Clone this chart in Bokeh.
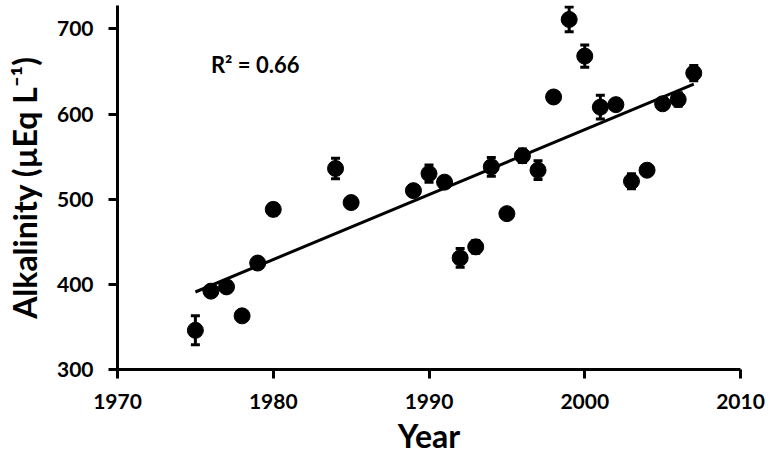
from bokeh.plotting import figure
from bokeh.models import Range1d, FixedTicker, Label, ColumnDataSource, Whisker
from bokeh.embed import file_html
from bokeh.resources import INLINE

years = [1975, 1976, 1977, 1978, 1979, 1980, 1984, 1985, 1989, 1990, 1991, 1992, 1993,
         1994, 1995, 1996, 1997, 1998, 1999, 2000, 2001, 2002, 2003, 2004, 2005, 2006, 2007]
alkalinity = [346, 392, 397, 363, 425, 488, 536, 496, 510, 530, 520, 431, 444,
              538, 483, 551, 534, 620, 711, 668, 608, 611, 521, 534, 612, 617, 648]
errors = [17, 4, 4, 3, 3, 7, 12, 4, 4, 10, 4, 11, 7.5,
          11, 3, 8, 11, 4, 14.5, 13, 14, 3, 8.8, 3, 3, 8, 9]

trend_years = [1975, 2007]
trend_values = [391, 635]

x_ticks = [1970, 1980, 1990, 2000, 2010]
y_ticks = [300, 400, 500, 600, 700]
r2_text = "R² = 0.66"

FONT = "Lato"

p = figure(width=766, height=458, output_backend="svg", toolbar_location=None,
           x_range=Range1d(1970, 2010), y_range=Range1d(300, 727.4),
           min_border_left=117, min_border_right=26, min_border_top=5, min_border_bottom=89)
p.outline_line_color = None
p.grid.visible = False
p.background_fill_color = "white"

lower = [a - e for a, e in zip(alkalinity, errors)]
upper = [a + e for a, e in zip(alkalinity, errors)]
src = ColumnDataSource(dict(x=years, y=alkalinity, lower=lower, upper=upper))

w = Whisker(source=src, base="x", lower="lower", upper="upper",
            line_color="black", line_width=3)
for head in (w.upper_head, w.lower_head):
    head.size = 9
    head.line_width = 3
    head.line_color = "black"
p.add_layout(w)

p.line(trend_years, trend_values, line_color="black", line_width=3)
p.scatter("x", "y", source=src, size=16, fill_color="black", line_color="black")

p.add_layout(Label(x=1976.0, y=658, text=r2_text, text_font=FONT, text_font_style="bold",
                   text_font_size="22px", text_baseline="middle", text_color="black"))

for ax in (p.xaxis, p.yaxis):
    ax.axis_line_width = 3
    ax.axis_line_color = "black"
    ax.major_tick_line_width = 3
    ax.major_tick_line_color = "black"
    ax.major_tick_out = 9
    ax.major_tick_in = 0
    ax.minor_tick_line_color = None
    ax.major_label_text_font = FONT
    ax.major_label_text_font_style = "bold"
    ax.major_label_text_font_size = "21px"
    ax.major_label_text_color = "black"
    ax.axis_label_text_font = FONT
    ax.axis_label_text_font_style = "bold"
    ax.axis_label_text_color = "black"

p.xaxis.ticker = FixedTicker(ticks=x_ticks)
p.yaxis.ticker = FixedTicker(ticks=y_ticks)
p.xaxis.major_label_standoff = 15
p.yaxis.major_label_standoff = 15
p.xaxis.axis_label = "Year"
p.xaxis.axis_label_text_font_size = "32px"
p.xaxis.axis_label_standoff = 4
p.yaxis.axis_label = "Alkalinity (µEq L⁻¹)"
p.yaxis.axis_label_text_font_size = "32px"
p.yaxis.axis_label_standoff = 10

open("out.html", "w").write(file_html(p, INLINE))
